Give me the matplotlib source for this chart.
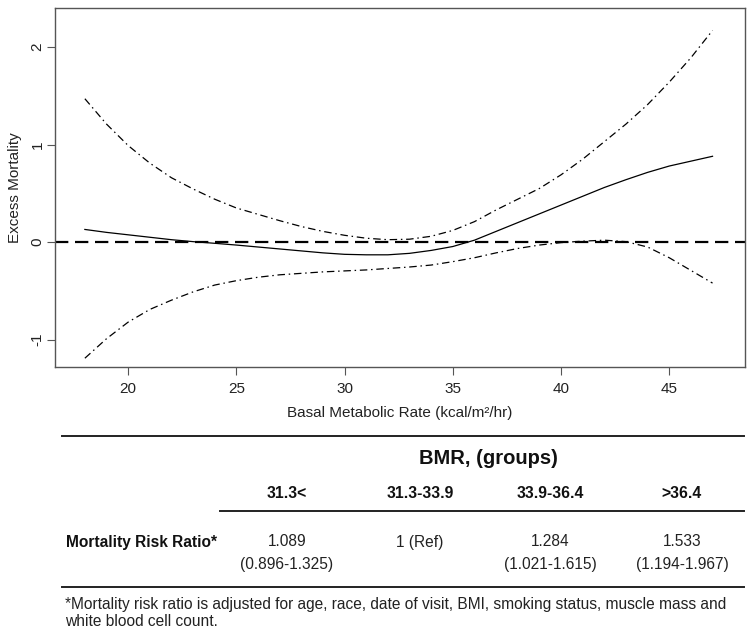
import matplotlib
matplotlib.use('Agg')
import matplotlib.pyplot as plt
from matplotlib import font_manager

# BMR grid and spline estimates
bmr = [18, 19, 20, 21, 22, 23, 24, 25, 26, 27, 28, 29, 30, 31, 32,
       33, 34, 35, 36, 37, 38, 39, 40, 41, 42, 43, 44, 45, 46, 47]
fit = [0.13, 0.10, 0.075, 0.05, 0.025, 0.005, -0.012, -0.03, -0.05, -0.07,
       -0.09, -0.11, -0.125, -0.13, -0.13, -0.115, -0.085, -0.045, 0.02, 0.11,
       0.20, 0.29, 0.38, 0.47, 0.56, 0.64, 0.715, 0.78, 0.83, 0.88]
upper = [1.47, 1.21, 0.99, 0.81, 0.66, 0.545, 0.44, 0.35, 0.285, 0.22,
         0.16, 0.11, 0.07, 0.04, 0.025, 0.03, 0.06, 0.12, 0.21, 0.33,
         0.44, 0.55, 0.69, 0.85, 1.03, 1.21, 1.41, 1.64, 1.89, 2.17]
lower = [-1.19, -0.99, -0.82, -0.69, -0.595, -0.51, -0.44, -0.395, -0.36, -0.335,
         -0.32, -0.305, -0.295, -0.285, -0.27, -0.255, -0.235, -0.20, -0.16, -0.11,
         -0.065, -0.03, -0.005, 0.01, 0.02, 0.005, -0.05, -0.16, -0.29, -0.42]

xticks = [20, 25, 30, 35, 40, 45]
yticks = [-1, 0, 1, 2]

# table below the plot
groups = ['31.3<', '31.3-33.9', '33.9-36.4', '>36.4']
rr = ['1.089', '1 (Ref)', '1.284', '1.533']
ci = ['(0.896-1.325)', '', '(1.021-1.615)', '(1.194-1.967)']
footnote = ['*Mortality risk ratio is adjusted for age, race, date of visit, BMI, '
            'smoking status, muscle mass and',
            'white blood cell count.']

names = {f.name for f in font_manager.fontManager.ttflist}
narrow = 'Liberation Sans Narrow' if 'Liberation Sans Narrow' in names else 'Liberation Sans'
plt.rcParams['font.family'] = ['Liberation Sans', 'DejaVu Sans']

fig = plt.figure(figsize=(7.54, 6.32), dpi=100)
W, H = 754, 632
ax = fig.add_axes([55 / W, 1 - 367 / H, 690 / W, 359 / H])

ax.plot(bmr, fit, color='black', lw=0.9)
ax.plot(bmr, upper, color='black', lw=0.9, dashes=(6, 3, 1.2, 3))
ax.plot(bmr, lower, color='black', lw=0.9, dashes=(6, 3, 1.2, 3))
ax.axhline(0, color='black', lw=1.6, dashes=(6, 3))

ax.set_xlim(16.62, 48.5)
ax.set_ylim(-1.28, 2.40)
ax.set_xticks(xticks)
ax.set_yticks(yticks)
ax.set_yticklabels([str(v) for v in yticks], rotation=90, va='center')
ax.tick_params(axis='both', direction='out', length=6, width=0.8, color='#555555',
               labelsize=11, labelcolor='#222222')
ax.tick_params(axis='x', pad=5)
ax.tick_params(axis='y', pad=1.5)
for s in ax.spines.values():
    s.set_color('#555555')
    s.set_linewidth(1.0)
ax.set_xlabel('Basal Metabolic Rate (kcal/m²/hr)', fontsize=11, color='#222222', labelpad=7)
ax.set_ylabel('Excess Mortality', fontsize=11, color='#222222', labelpad=6)

# table drawn in pixel coordinates
tb = fig.add_axes([0, 0, 1, 1])
tb.set_xlim(0, W)
tb.set_ylim(H, 0)
tb.axis('off')

tb.plot([62, 744], [436, 436], color='#222222', lw=1.4)
tb.plot([220, 744], [511, 511], color='#222222', lw=1.4)
tb.plot([62, 744], [587, 587], color='#222222', lw=1.4)

tb.text(488, 459, 'BMR, (groups)', family=narrow, fontsize=14.5, fontweight='bold',
        ha='center', va='center', color='#111111')
col_x = [287, 420, 550, 682]
for x, g, r, c in zip(col_x, groups, rr, ci):
    tb.text(x, 494, g, family=narrow, fontsize=11.3, fontweight='bold',
            ha='center', va='center', color='#111111')
    tb.text(x, 542, r, family=narrow, fontsize=11.2, ha='center', va='center', color='#222222')
    if c:
        tb.text(x, 565, c, family=narrow, fontsize=11.2, ha='center', va='center', color='#222222')
tb.text(66, 542, 'Mortality Risk Ratio*', family=narrow, fontsize=11.2, fontweight='bold',
        ha='left', va='center', color='#111111')
tb.text(65, 604, footnote[0], family=narrow, fontsize=11.2, ha='left', va='center', color='#222222')
tb.text(65, 621, footnote[1], family=narrow, fontsize=11.2, ha='left', va='center', color='#222222')

fig.savefig('out.png', dpi=100)
